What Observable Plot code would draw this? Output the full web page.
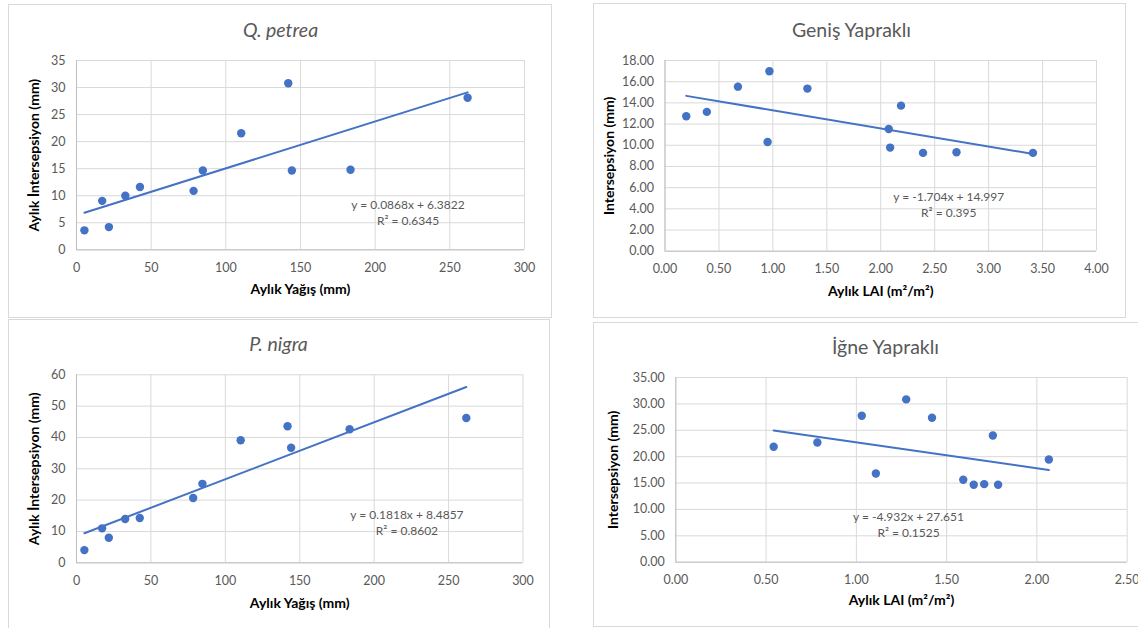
<!DOCTYPE html>
<html><head><meta charset="utf-8">
<script src="https://cdn.jsdelivr.net/npm/d3@7"></script>
<script src="https://cdn.jsdelivr.net/npm/@observablehq/plot@0.6"></script>
<style>
body{margin:0;background:#fff;}
#root{position:relative;width:1138px;height:628px;overflow:hidden;background:#fff;font-family:Lato,sans-serif;}
.panel{position:absolute;border:1px solid #d9d9d9;box-sizing:border-box;background:#fff;}
.chart{position:absolute;}
.chart svg{overflow:visible;}
</style></head><body><div id="root"></div>
<script>
// ---------- data ----------
const precip = [5.3, 17.2, 21.7, 32.7, 42.5, 78.4, 84.6, 110.3, 141.8, 144.2, 183.5, 261.9];
const interceptionQ = [3.6, 9.05, 4.2, 10.0, 11.6, 10.9, 14.65, 21.55, 30.8, 14.65, 14.8, 28.1];
const interceptionP = [4.05, 11.0, 8.0, 14.0, 14.3, 20.7, 25.2, 39.1, 43.6, 36.7, 42.6, 46.2];
const laiBroad = [0.197, 0.388, 0.676, 0.951, 0.968, 1.32, 2.074, 2.087, 2.188, 2.392, 2.702, 3.411];
const interceptionBroad = [12.74, 13.15, 15.53, 10.31, 16.98, 15.35, 11.54, 9.78, 13.74, 9.28, 9.34, 9.28];
const laiNeedle = [0.542, 0.784, 1.030, 1.108, 1.276, 1.419, 1.592, 1.650, 1.708, 1.756, 1.785, 2.066];
const interceptionNeedle = [21.87, 22.69, 27.75, 16.81, 30.85, 27.37, 15.61, 14.67, 14.79, 24.02, 14.67, 19.47];

const titles = ["Q. petrea", "Geniş Yapraklı", "P. nigra", "İğne Yapraklı"];
const xLabels = ["Aylık Yağış (mm)", "Aylık LAI (m²/m²)", "Aylık Yağış (mm)", "Aylık LAI (m²/m²)"];
const yLabels = ["Aylık İntersepsiyon (mm)", "Intersepsiyon (mm)", "Aylık İntersepsiyon (mm)", "Intersepsiyon (mm)"];
const slopes = [0.0868, -1.704, 0.1818, -4.932];
const intercepts = [6.3822, 14.997, 8.4857, 27.651];
const equations = ["y = 0.0868x + 6.3822", "y = -1.704x + 14.997", "y = 0.1818x + 8.4857", "y = -4.932x + 27.651"];
const rSquared = ["R² = 0.6345", "R² = 0.395", "R² = 0.8602", "R² = 0.1525"];
const eqX = [222, 2.63, 222, 1.289];
const eqY = [7.05, 4.46, 13.2, 7.33];
const xTicksPrecip = [0, 50, 100, 150, 200, 250, 300];
const xTicksBroad = [0, 0.5, 1, 1.5, 2, 2.5, 3, 3.5, 4];
const xTicksNeedle = [0, 0.5, 1, 1.5, 2, 2.5];
const yTicksQ = [0, 5, 10, 15, 20, 25, 30, 35];
const yTicksBroad = [0, 2, 4, 6, 8, 10, 12, 14, 16, 18];
const yTicksP = [0, 10, 20, 30, 40, 50, 60];
const yTicksNeedle = [0, 5, 10, 15, 20, 25, 30, 35];

// ---------- layout ----------
const panels = [
  {xs: precip, ys: interceptionQ, xt: xTicksPrecip, yt: yTicksQ, fmt: d3.format("d"), italic: true,
   box: [8, 4, 552, 318], plot: [76, 60, 524, 249.3], titleX: 280, yOff: 42, xOff: 40},
  {xs: laiBroad, ys: interceptionBroad, xt: xTicksBroad, yt: yTicksBroad, fmt: d3.format(".2f"), italic: false,
   box: [593, 3, 1126, 318], plot: [664.5, 60, 1096, 250.7], titleX: 851, yOff: 55, xOff: 40},
  {xs: precip, ys: interceptionP, xt: xTicksPrecip, yt: yTicksP, fmt: d3.format("d"), italic: true,
   box: [8, 319, 550, 640], plot: [76, 374.3, 522.5, 562.3], titleX: 278, yOff: 42, xOff: 40.5},
  {xs: laiNeedle, ys: interceptionNeedle, xt: xTicksNeedle, yt: yTicksNeedle, fmt: d3.format(".2f"), italic: false,
   box: [593, 322, 1180, 627], plot: [675.3, 377, 1126.7, 561.7], titleX: 885, yOff: 62.5, xOff: 38.5}
];

const root = document.getElementById("root");
const blue = "#4472C4";
const gridC = "#d9d9d9";

panels.forEach((p, i) => {
  const [bx0, by0, bx1, by1] = p.box;
  const [px0, py0, px1, py1] = p.plot;
  const div = document.createElement("div");
  div.className = "panel";
  Object.assign(div.style, {left: bx0 + "px", top: by0 + "px", width: (bx1 - bx0) + "px", height: (by1 - by0) + "px"});
  root.appendChild(div);

  const W = bx1 - bx0, H = by1 - by0;
  const data = p.xs.map((x, k) => ({x, y: p.ys[k]}));
  const xmin = d3.min(p.xs), xmax = d3.max(p.xs);
  const trend = [xmin, xmax].map(x => ({x, y: slopes[i] * x + intercepts[i]}));

  const chart = Plot.plot({
    width: W, height: H,
    marginLeft: px0 - bx0, marginTop: py0 - by0, marginRight: bx1 - px1, marginBottom: by1 - py1,
    style: {fontFamily: "Lato, sans-serif", fontSize: "12.5px", color: "#595959", background: "transparent", overflow: "visible"},
    x: {domain: [p.xt[0], p.xt[p.xt.length - 1]]},
    y: {domain: [p.yt[0], p.yt[p.yt.length - 1]]},
    marks: [
      Plot.gridX(p.xt, {stroke: gridC, strokeOpacity: 1}),
      Plot.gridY(p.yt, {stroke: gridC, strokeOpacity: 1}),
      Plot.ruleX([p.xt[0]], {stroke: "#bfbfbf"}),
      Plot.ruleY([p.yt[0]], {stroke: "#bfbfbf"}),
      Plot.axisX(p.xt, {tickSize: 0, tickPadding: 13, tickFormat: p.fmt, label: null, fill: "#595959", fontSize: 12.5}),
      Plot.axisY(p.yt, {tickSize: 0, tickPadding: 11, tickFormat: p.fmt, label: null, fill: "#595959", fontSize: 12.5}),
      Plot.line(trend, {x: "x", y: "y", stroke: blue, strokeWidth: 2}),
      Plot.dot(data, {x: "x", y: "y", r: 4.2, fill: blue, stroke: "none"}),
      Plot.text([equations[i] + "\n" + rSquared[i]], {x: () => eqX[i], y: () => eqY[i], text: d => d, fill: "#595959", fontSize: 12, lineHeight: 1.35}),
      Plot.text([titles[i]], {frameAnchor: "top-left", dx: p.titleX - px0, dy: -30, text: d => d, fill: "#595959",
        fontSize: 19.5, fontStyle: p.italic ? "italic" : "normal", textAnchor: "middle", lineAnchor: "middle"}),
      Plot.text([xLabels[i]], {frameAnchor: "bottom", dy: p.xOff, text: d => d, fill: "#000", fontWeight: "bold", fontSize: 14,
        textAnchor: "middle", lineAnchor: "middle"}),
      Plot.text([yLabels[i]], {frameAnchor: "left", dx: -p.yOff, rotate: -90, text: d => d, fill: "#000", fontWeight: "bold", fontSize: 14,
        textAnchor: "middle", lineAnchor: "middle"})
    ]
  });
  const wrap = document.createElement("div");
  wrap.className = "chart";
  Object.assign(wrap.style, {left: bx0 + "px", top: by0 + "px", width: W + "px", height: H + "px"});
  wrap.appendChild(chart);
  root.appendChild(wrap);
});
</script></body></html>
